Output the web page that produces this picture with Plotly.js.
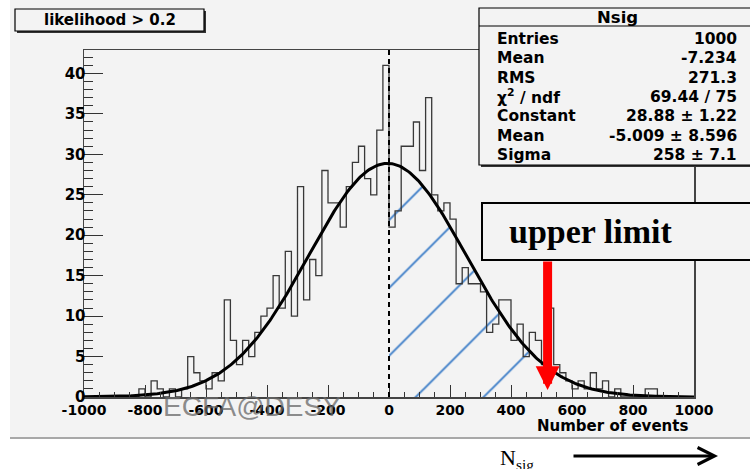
<!DOCTYPE html>
<html>
<head>
<meta charset="utf-8">
<script src="https://cdn.plot.ly/plotly-3.0.1.min.js"></script>
<style>html,body{margin:0;padding:0;background:#fff;}</style>
</head>
<body>
<div id="chart" style="width:750px;height:469px"></div>
<script>
// Histogram binning: 100 bins of width 20 on [-1000, 1000]
const binLow = -1000;
const binWidth = 20;
const counts = [
  0, 0, 0, 0, 0, 0, 0, 0, 0, 1,
  0, 2, 1, 0, 1, 0, 1, 5, 3, 2,
  1, 3, 2, 12, 7, 4, 7, 5, 8, 10,
  11, 15, 11, 18, 10, 26, 12, 17, 15, 28,
  24, 24, 21, 26, 29, 31, 27, 25, 33, 41,
  21, 23, 31, 31, 34, 28, 37, 25, 23, 24,
  22, 14, 16, 14, 14, 13, 8, 9, 12, 12,
  7, 9, 5, 8, 7, 4, 11, 4, 3, 2,
  1, 2, 1, 3, 1, 2, 0, 1, 0, 0,
  0, 0, 1, 1, 0, 0, 0, 0, 0, 0
];

// Gaussian fit result
const fitConstant = 28.88;
const fitMean = -5.009;
const fitSigma = 258;

// Shaded acceptance region and the resulting limit
const regionStart = 0;
const upperLimit = 520;

// Statistics box
const statTitle = 'Nsig';
const statLabels = ['Entries', 'Mean', 'RMS', 'χ<sup>2</sup> / ndf', 'Constant', 'Mean', 'Sigma'];
const statValues = ['1000', '-7.234', '271.3', '69.44 / 75', '28.88 ± 1.22', '-5.009 ± 8.596', '258 ± 7.1'];

const xTickVals = [-1000, -800, -600, -400, -200, 0, 200, 400, 600, 800, 1000];
const yTickVals = [0, 5, 10, 15, 20, 25, 30, 35, 40];
const yMax = 42.9;

// ---- geometry of the page (pixels) ----
const W = 750, H = 469;
const M = {l: 84, r: 56, t: 50, b: 72};
const PL = M.l, PR = W - M.r, PT = M.t, PB = H - M.b;
const px = x => (x - PL) / (PR - PL);
const py = y => (PB - y) / (PB - PT);

// ---- histogram outline (step) ----
const hx = [binLow], hy = [0];
counts.forEach((c, i) => { hx.push(binLow + i * binWidth); hy.push(c); });
hx.push(binLow + counts.length * binWidth); hy.push(counts[counts.length - 1]);
hx.push(binLow + counts.length * binWidth); hy.push(0);

const gauss = x => fitConstant * Math.exp(-0.5 * Math.pow((x - fitMean) / fitSigma, 2));
const fx = [], fy = [];
for (let x = binLow; x <= binLow + counts.length * binWidth; x += 5) { fx.push(x); fy.push(gauss(x)); }
const sx = [], sy = [];
for (let x = regionStart; x <= upperLimit; x += 4) { sx.push(x); sy.push(gauss(x)); }

const canvasGrey = '#f3f3f3';
const boldFont = (size, color) => ({family: 'DejaVu Sans', size: size, color: color || '#000', weight: 'bold'});

const traces = [
  {
    type: 'scatter', mode: 'lines', x: sx, y: sy, fill: 'tozeroy',
    line: {width: 0, color: 'rgba(0,0,0,0)'},
    fillcolor: 'rgba(0,0,0,0)',
    fillpattern: {shape: '/', fgcolor: '#3f7fc8', bgcolor: 'rgba(0,0,0,0)', size: 48, solidity: 0.04},
    hoverinfo: 'skip', showlegend: false
  },
  {
    type: 'scatter', mode: 'lines', x: hx, y: hy,
    line: {shape: 'hv', color: '#383838', width: 1.3},
    hoverinfo: 'skip', showlegend: false
  },
  {
    type: 'scatter', mode: 'lines', x: fx, y: fy,
    line: {color: '#000', width: 3},
    hoverinfo: 'skip', showlegend: false
  }
];

const shapes = [
  // canvas background and its lower edge
  {type: 'rect', xref: 'paper', yref: 'paper', x0: px(10), x1: px(752), y0: py(0), y1: py(437),
   fillcolor: canvasGrey, line: {width: 0}, layer: 'below'},
  {type: 'line', xref: 'paper', yref: 'paper', x0: px(10), x1: px(752), y0: py(438), y1: py(438),
   line: {color: '#a8a8a8', width: 2}},
  // dashed line at Nsig = 0
  {type: 'line', xref: 'x', yref: 'paper', x0: regionStart, x1: regionStart, y0: 0, y1: 1,
   line: {color: '#000', width: 2, dash: '5px,4px'}},
  // label box top-left
  {type: 'rect', xref: 'paper', yref: 'paper', x0: px(17), x1: px(206), y0: py(11), y1: py(33),
   fillcolor: '#333', line: {width: 0}},
  {type: 'rect', xref: 'paper', yref: 'paper', x0: px(15), x1: px(204), y0: py(9), y1: py(31),
   fillcolor: canvasGrey, line: {color: '#000', width: 1.2}},
  // statistics box
  {type: 'rect', xref: 'paper', yref: 'paper', x0: px(481), x1: px(760), y0: py(10), y1: py(167),
   fillcolor: '#333', line: {width: 0}},
  {type: 'rect', xref: 'paper', yref: 'paper', x0: px(479), x1: px(760), y0: py(8), y1: py(165),
   fillcolor: canvasGrey, line: {color: '#000', width: 1.2}},
  {type: 'line', xref: 'paper', yref: 'paper', x0: px(479), x1: px(760), y0: py(26), y1: py(26),
   line: {color: '#000', width: 1.2}},
  // "upper limit" box
  {type: 'rect', xref: 'paper', yref: 'paper', x0: px(482), x1: px(760), y0: py(203), y1: py(260),
   fillcolor: canvasGrey, line: {color: '#000', width: 2}}
];

const annotations = [
  {xref: 'paper', yref: 'paper', x: px(110), y: py(20), text: 'likelihood &gt; 0.2', showarrow: false,
   xanchor: 'center', yanchor: 'middle', font: boldFont(15)},
  {xref: 'paper', yref: 'paper', x: px(617), y: py(17), text: statTitle, showarrow: false,
   xanchor: 'center', yanchor: 'middle', font: boldFont(16.5)},
  {xref: 'paper', yref: 'paper', x: px(590), y: py(231), text: 'upper limit', showarrow: false,
   xanchor: 'center', yanchor: 'middle',
   font: {family: 'Liberation Serif', size: 34, color: '#000', weight: 'bold'}},
  {xref: 'x', yref: 'y', x: upperLimit, y: (PB - 390) / ((PB - PT) / yMax), text: '',
   showarrow: true, arrowhead: 2, arrowwidth: 9, arrowsize: 0.53, arrowcolor: '#ff0000',
   ax: 0, ay: -130},
  {xref: 'paper', yref: 'paper', x: px(690), y: py(426), text: 'Number of events', showarrow: false,
   xanchor: 'right', yanchor: 'middle', font: boldFont(15)},
  {xref: 'paper', yref: 'paper', x: px(252), y: py(406), text: 'ECFA@DESY', showarrow: false,
   xanchor: 'center', yanchor: 'middle',
   font: {family: 'Liberation Sans Narrow, Liberation Sans', size: 28, color: 'rgba(105,105,105,0.75)'}},
  {xref: 'paper', yref: 'paper', x: px(498), y: py(443), text: 'N<sub>sig</sub>', showarrow: false,
   xanchor: 'left', yanchor: 'top',
   font: {family: 'Liberation Serif', size: 22, color: '#000'}},
  {xref: 'paper', yref: 'paper', x: px(718), y: py(456), text: '', showarrow: true,
   arrowhead: 5, arrowwidth: 3, arrowsize: 1.1, arrowcolor: '#000', ax: -146, ay: 0}
];
statLabels.forEach((lab, i) => {
  const yy = 39 + 19.3 * i;
  annotations.push({xref: 'paper', yref: 'paper', x: px(495), y: py(yy), text: lab, showarrow: false,
    xanchor: 'left', yanchor: 'middle', font: boldFont(15.5)});
  annotations.push({xref: 'paper', yref: 'paper', x: px(739), y: py(yy), text: statValues[i], showarrow: false,
    xanchor: 'right', yanchor: 'middle', font: boldFont(15.5)});
});

const layout = {
  width: W, height: H,
  margin: M,
  paper_bgcolor: '#ffffff',
  plot_bgcolor: canvasGrey,
  showlegend: false,
  xaxis: {
    range: [binLow, binLow + counts.length * binWidth],
    tickmode: 'array', tickvals: xTickVals, ticktext: xTickVals.map(String),
    ticks: 'inside', ticklen: 12, tickwidth: 1, tickcolor: '#333',
    minor: {dtick: 50, tick0: binLow, ticks: 'inside', ticklen: 5, tickwidth: 1, tickcolor: '#333', showgrid: false},
    showline: true, mirror: true, linecolor: '#444', linewidth: 1.5,
    showgrid: false, zeroline: false,
    tickfont: boldFont(14)
  },
  yaxis: {
    range: [0, yMax],
    tickmode: 'array', tickvals: yTickVals, ticktext: yTickVals.map(String),
    ticks: 'inside', ticklen: 19, tickwidth: 1, tickcolor: '#333',
    minor: {dtick: 1, tick0: 0, ticks: 'inside', ticklen: 9, tickwidth: 1, tickcolor: '#333', showgrid: false},
    showline: true, mirror: true, linecolor: '#444', linewidth: 1.5,
    showgrid: false, zeroline: false,
    ticklabelstandoff: -6,
    tickfont: boldFont(15)
  },
  shapes: shapes,
  annotations: annotations
};

Plotly.newPlot('chart', traces, layout, {staticPlot: true, displayModeBar: false});
</script>
</body>
</html>
